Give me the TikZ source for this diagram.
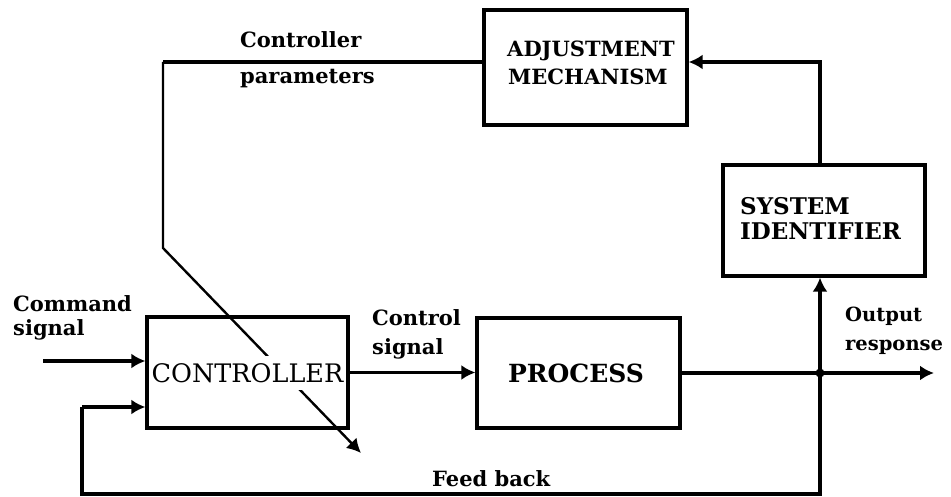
\documentclass[tikz,border=0pt]{standalone}
\usepackage{fontspec}
\setmainfont{DejaVu Serif}
\usetikzlibrary{arrows.meta}
\begin{document}
\begin{tikzpicture}[x=1pt,y=-1pt,
  box/.style={draw,line width=3.2pt,inner sep=0pt},
  conn/.style={line width=3.2pt},
  arr/.style={line width=3.2pt,-{Latex[length=14pt,width=15pt]}},
  thinarr/.style={line width=2.4pt,-{Latex[length=14pt,width=15pt]}},
  lbl/.style={font=\bfseries\fontsize{21}{21}\selectfont,inner sep=0pt,anchor=base west},
  boxtxt/.style={font=\bfseries\fontsize{25}{25}\selectfont,inner sep=0pt},
]
\useasboundingbox (0,0) rectangle (951,497);
% boxes
\node[box,minimum width=201pt,minimum height=111pt] (ctrl) at (247.5,372.5) {};
\node[box,minimum width=203pt,minimum height=110pt] (proc) at (578.5,373) {};
\node[box,minimum width=203pt,minimum height=115pt] (adj) at (585.5,67.5) {};
\node[box,minimum width=202pt,minimum height=111pt] (sysid) at (824,220.5) {};
% coordinates
\coordinate (cmd) at (43,361);
\coordinate (j) at (820,373);
\coordinate (out) at (934,373);
\coordinate (tr) at (820,62);
\coordinate (tl) at (163,62);
\coordinate (bend) at (163,248);
\coordinate (pend) at (361,453);
\coordinate (fbr) at (820,494);
\coordinate (fbl) at (82,494);
\coordinate (fbt) at (82,407);
% connectors
\draw[arr] (cmd) -- (cmd -| ctrl.west);
\draw[arr] (ctrl.east) -- (ctrl.east -| proc.west);
\draw[conn] (proc.east) -- (j);
\draw[arr] (j) -- (out);
\fill (j) circle (4.5pt);
\draw[arr] (j) -- (j |- sysid.south);
\draw[arr,line join=miter] (tr |- sysid.north) -- (tr) -- (tr -| adj.east);
\draw[conn,line join=miter] (j) -- (fbr) -- (fbl) -- (fbt);
\draw[arr] (fbt) -- (fbt -| ctrl.west);
\draw[conn] (tl -| adj.west) -- (tl);
\draw[thinarr,line join=miter] (tl) -- (bend) -- (pend);
% box texts
\node[font=\fontsize{25.5}{25.5}\selectfont,fill=white,inner xsep=0pt,inner ysep=7pt] (ctrltxt) at (247.5,373) {CONTROLLER};
\node[boxtxt] (proctxt) at (576,373) {PROCESS};
\node[boxtxt,font=\bfseries\fontsize{23}{23}\selectfont,anchor=base west] (sys1) at (740,215) {SYSTEM};
\node[boxtxt,font=\bfseries\fontsize{23}{23}\selectfont,anchor=base west] (sys2) at (740,240) {IDENTIFIER};
\node[font=\bfseries\fontsize{21}{21}\selectfont,inner sep=0pt,anchor=base west] (adj1) at (507,57) {ADJUSTMENT};
\node[font=\bfseries\fontsize{21}{21}\selectfont,inner sep=0pt,anchor=base west] (adj2) at (508,85) {MECHANISM};
% labels
\node[lbl] (cmd1) at (13,312) {Command};
\node[lbl] (cmd2) at (13,335) {signal};
\node[lbl] (par1) at (240,48) {Controller};
\node[lbl] (par2) at (240,84) {parameters};
\node[lbl] (cs1) at (372,325) {Control};
\node[lbl] (cs2) at (372,354) {signal};
\node[lbl,font=\bfseries\fontsize{19.5}{19.5}\selectfont] (op1) at (845,322) {Output};
\node[lbl,font=\bfseries\fontsize{19.5}{19.5}\selectfont] (op2) at (845,350) {response};
\node[lbl] (fb) at (432,486) {Feed back};
\end{tikzpicture}
\end{document}
